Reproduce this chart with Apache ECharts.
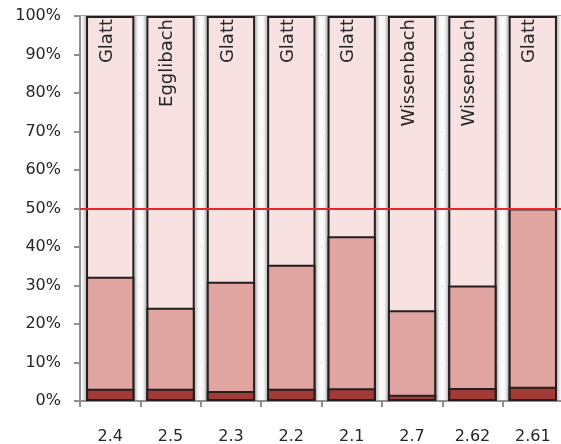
<!DOCTYPE html>
<html>
<head>
<meta charset="utf-8">
<script src="https://cdn.jsdelivr.net/npm/echarts@6/dist/echarts.min.js"></script>
<style>
html,body{margin:0;padding:0;background:#fff;}
#c{width:561px;height:444px;}
</style>
</head>
<body>
<div id="c"></div>
<script>
var categories = ['2.4', '2.5', '2.3', '2.2', '2.1', '2.7', '2.62', '2.61'];
var riverNames = ['Glatt', 'Egglibach', 'Glatt', 'Glatt', 'Glatt', 'Wissenbach', 'Wissenbach', 'Glatt'];
// cumulative heights (% of total) read at the top of each coloured band
var lowerTop = [3.2, 3.2, 2.6, 3.2, 3.3, 1.6, 3.4, 3.7];
var middleTop = [32.3, 24.2, 31.0, 35.4, 42.8, 23.6, 30.0, 50.0];
var upperTop = [100, 100, 100, 100, 100, 100, 100, 100];
var thresholdValue = 50;
var yTicks = [0, 10, 20, 30, 40, 50, 60, 70, 80, 90, 100];

var chart = echarts.init(document.getElementById('c'), null, {renderer: 'canvas'});

var gapGradient = new echarts.graphic.LinearGradient(0, 0, 1, 0, [
  {offset: 0, color: '#fdfdfd'},
  {offset: 0.05, color: '#f2f2f2'},
  {offset: 0.08, color: '#c8c8c8'},
  {offset: 0.5, color: '#dddddd'},
  {offset: 0.92, color: '#c8c8c8'},
  {offset: 0.95, color: '#f2f2f2'},
  {offset: 1, color: '#fdfdfd'}
]);

var font = 'DejaVu Sans';
var border = {borderColor: '#231f20', borderWidth: 2};

chart.setOption({
  animation: false,
  backgroundColor: '#ffffff',
  grid: {left: 80, right: -2, top: 16, bottom: 43, containLabel: false, outerBoundsMode: 'none'},
  xAxis: {
    type: 'category',
    data: categories,
    axisLine: {show: true, lineStyle: {color: '#8f8f8f', width: 2}},
    axisTick: {show: true, length: 6, lineStyle: {color: '#8f8f8f', width: 2}},
    axisLabel: {fontFamily: font, fontSize: 16, color: '#262626', margin: 28},
    splitArea: {show: true, areaStyle: {color: [gapGradient]}}
  },
  yAxis: {
    type: 'value',
    min: yTicks[0],
    max: yTicks[yTicks.length - 1],
    interval: 10,
    axisLine: {show: true, lineStyle: {color: '#8f8f8f', width: 2}},
    axisTick: {show: true, length: 6, lineStyle: {color: '#8f8f8f', width: 2}},
    axisLabel: {fontFamily: font, fontSize: 16, color: '#262626', margin: 19, formatter: '{value}%'},
    splitLine: {show: true, lineStyle: {color: '#a3a3a3', width: 2}}
  },
  series: [
    {
      name: 'upper', type: 'bar', barWidth: '80%', barGap: '-100%',
      data: upperTop,
      itemStyle: Object.assign({color: '#f7e1e1'}, border),
      label: {
        show: true,
        position: ['50%', 3],
        rotate: 90,
        align: 'right',
        verticalAlign: 'middle',
        offset: [0, -3],
        fontFamily: font,
        fontSize: 18,
        color: '#262626',
        formatter: function (p) { return riverNames[p.dataIndex]; }
      },
      markLine: {
        silent: true,
        symbol: 'none',
        z: 10,
        label: {show: false},
        lineStyle: {color: '#e8262b', width: 2, type: 'solid'},
        data: [{yAxis: thresholdValue}]
      },
      z: 4
    },
    {
      name: 'middle', type: 'bar', barWidth: '80%', barGap: '-100%',
      data: middleTop,
      itemStyle: Object.assign({color: '#e0a4a1'}, border),
      z: 4
    },
    {
      name: 'lower', type: 'bar', barWidth: '80%', barGap: '-100%',
      data: lowerTop,
      itemStyle: Object.assign({color: '#a23b36'}, border),
      z: 4
    }
  ]
});
</script>
</body>
</html>
